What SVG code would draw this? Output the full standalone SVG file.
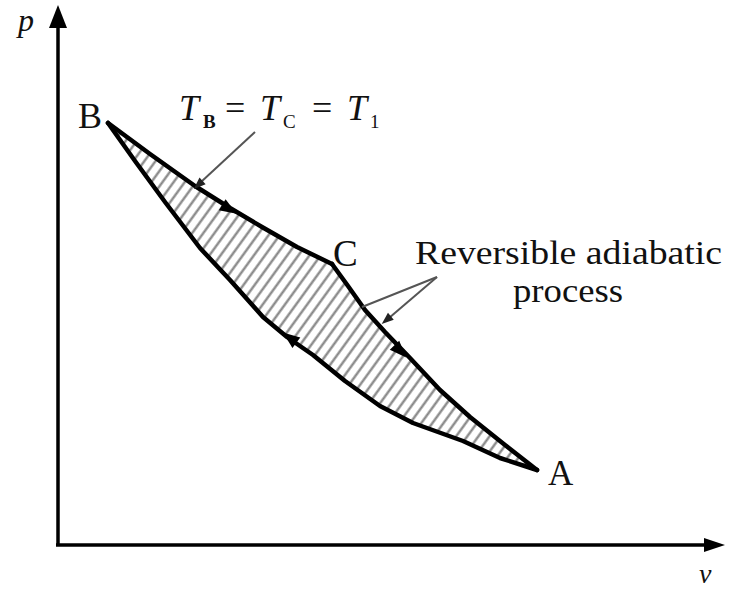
<svg xmlns="http://www.w3.org/2000/svg" width="729" height="591" viewBox="0 0 729 591">
<style>
.axis{stroke:#000;stroke-width:3.5;fill:none}
.curve{stroke:#000;stroke-width:4.5;fill:none;stroke-linejoin:round;stroke-linecap:round}
.lead{stroke:#555;stroke-width:2;fill:none}
.lbl{font-family:"Liberation Serif","Times New Roman",serif;fill:#111}
.it{font-style:italic}
</style>
<defs>
<pattern id="hatch" patternUnits="userSpaceOnUse" width="9" height="9" patternTransform="rotate(36)">
<line x1="4.5" y1="-1" x2="4.5" y2="10" stroke="#808080" stroke-width="2.2"/>
</pattern>
<path id="ah" d="M9,0 L-8,-6.5 L-8,6.5 Z" fill="#000"/>
<path id="sh" d="M3,0 L-9,-4.5 L-9,4.5 Z" fill="#222"/>
</defs>
<rect width="729" height="591" fill="#fff"/>
<g id="axes">
<line class="axis" x1="58" y1="22" x2="58" y2="545"/>
<path d="M58,5 L67,28 L49,28 Z" fill="#000"/>
<line class="axis" x1="56" y1="545" x2="708" y2="545"/>
<path d="M725,545 L704,538 L704,552 Z" fill="#000"/>
<text class="lbl it" x="18" y="31" font-size="32">p</text>
<text class="lbl it" x="699" y="583" font-size="28">v</text>
</g>
<g id="cycle">
<path d="M108,123 L150,154 L195,186 L230,208 L262,227 L297,247 L332,264 L348,286 L365,310 L385,332 L410,358 L440,390 L470,417 L505,445 L537,470 L500,458 L463,441 L413,423 L380,406 L345,381 L313,355 L287,337 L263,317 L230,280 L200,248 L165,202 L135,161 Z" fill="url(#hatch)" stroke="none"/>
<path class="curve" d="M108,123 L150,154 L195,186 L230,208 L262,227 L297,247 L332,264"/>
<path class="curve" d="M332,264 L348,286 L365,310 L385,332 L410,358 L440,390 L470,417 L505,445 L537,470"/>
<path class="curve" d="M537,470 L500,458 L463,441 L413,423 L380,406 L345,381 L313,355 L287,337 L263,317 L230,280 L200,248 L165,202 L135,161 L108,123"/>
<use href="#ah" transform="translate(229,209) rotate(31.5)"/>
<use href="#ah" transform="translate(290,338) rotate(217)"/>
<use href="#ah" transform="translate(400,351) rotate(46.5)"/>
</g>
<g id="labels">
<text class="lbl" x="78" y="128" font-size="36">B</text>
<text class="lbl" x="333" y="266" font-size="37">C</text>
<text class="lbl" x="548" y="485" font-size="35">A</text>
<text class="lbl" font-size="36">
<tspan class="it" x="179" y="120">T</tspan><tspan x="203" y="128" font-size="19" font-weight="bold">B</tspan><tspan x="225" y="120">=</tspan><tspan class="it" x="260" y="120">T</tspan><tspan x="283" y="128" font-size="19">C</tspan><tspan x="312" y="120">=</tspan><tspan class="it" x="347" y="120">T</tspan><tspan x="370" y="128" font-size="19">1</tspan>
</text>
<text class="lbl" x="415" y="264" font-size="34" textLength="307" lengthAdjust="spacingAndGlyphs">Reversible adiabatic</text>
<text class="lbl" x="513" y="302" font-size="34" textLength="110" lengthAdjust="spacingAndGlyphs">process</text>
</g>
<g id="connectors">
<path class="lead" d="M255,132 L201,182"/>
<use href="#sh" transform="translate(196,187) rotate(137)"/>
<path class="lead" d="M437,277 L362,307"/>
<path class="lead" d="M437,277 L389,318"/>
<use href="#sh" transform="translate(384,322) rotate(139.8)"/>
</g>
</svg>
